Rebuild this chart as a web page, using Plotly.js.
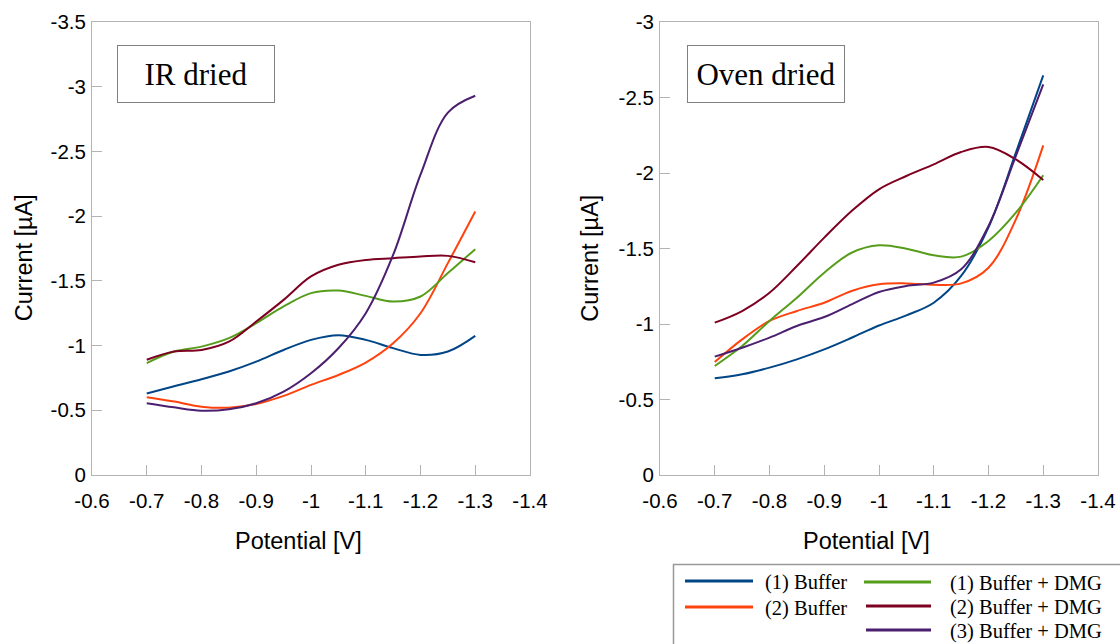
<!DOCTYPE html>
<html>
<head>
<meta charset="utf-8">
<script src="https://cdn.plot.ly/plotly-3.0.1.min.js"></script>
<style>html,body{margin:0;padding:0;background:#fff;}#chart{width:1120px;height:644px;}</style>
</head>
<body>
<div id="chart"></div>
<script>
// ---- data ----
const potential = [-0.7, -0.75, -0.8, -0.85, -0.9, -0.95, -1.0, -1.05, -1.1, -1.15, -1.2, -1.25, -1.3];
const seriesNames = ["(1) Buffer", "(2) Buffer", "(1) Buffer + DMG", "(2) Buffer + DMG", "(3) Buffer + DMG"];
const seriesColors = ["#004586", "#ff420e", "#579d1c", "#7e0021", "#4b1f6f"];

// IR dried (left panel)
const irBuffer1 = [-0.63, -0.685, -0.74, -0.80, -0.876, -0.966, -1.044, -1.08, -1.044, -0.98, -0.928, -0.954, -1.075];
const irBuffer2 = [-0.60, -0.567, -0.528, -0.52, -0.549, -0.611, -0.696, -0.773, -0.869, -1.018, -1.25, -1.637, -2.036];
const irDmg1 = [-0.865, -0.954, -0.992, -1.057, -1.173, -1.302, -1.405, -1.425, -1.384, -1.34, -1.379, -1.56, -1.745];
const irDmg2 = [-0.89, -0.954, -0.966, -1.03, -1.186, -1.353, -1.534, -1.624, -1.662, -1.675, -1.688, -1.693, -1.644];
const irDmg3 = [-0.555, -0.523, -0.497, -0.508, -0.554, -0.644, -0.786, -0.979, -1.25, -1.70, -2.32, -2.80, -2.93];

// Oven dried (right panel)
const ovBuffer1 = [-0.64, -0.667, -0.711, -0.766, -0.832, -0.909, -0.99, -1.057, -1.141, -1.318, -1.64, -2.135, -2.647];
const ovBuffer2 = [-0.748, -0.898, -1.02, -1.086, -1.141, -1.219, -1.263, -1.269, -1.26, -1.269, -1.373, -1.693, -2.183];
const ovDmg1 = [-0.722, -0.854, -1.02, -1.174, -1.34, -1.472, -1.521, -1.499, -1.455, -1.446, -1.55, -1.737, -1.985];
const ovDmg2 = [-1.009, -1.086, -1.207, -1.384, -1.572, -1.748, -1.892, -1.98, -2.057, -2.139, -2.172, -2.09, -1.954];
const ovDmg3 = [-0.784, -0.843, -0.91, -0.987, -1.046, -1.13, -1.212, -1.252, -1.274, -1.362, -1.649, -2.113, -2.587];

const xTickVals = [-0.6, -0.7, -0.8, -0.9, -1.0, -1.1, -1.2, -1.3, -1.4];
const xTickText = ["-0.6", "-0.7", "-0.8", "-0.9", "-1", "-1.1", "-1.2", "-1.3", "-1.4"];
const yTickValsL = [0, -0.5, -1, -1.5, -2, -2.5, -3, -3.5];
const yTickTextL = ["0", "-0.5", "-1", "-1.5", "-2", "-2.5", "-3", "-3.5"];
const yTickValsR = [0, -0.5, -1, -1.5, -2, -2.5, -3];
const yTickTextR = ["0", "-0.5", "-1", "-1.5", "-2", "-2.5", "-3"];
const panelLabels = ["IR dried", "Oven dried"];
const xTitle = "Potential [V]";
const yTitle = "Current [µA]";

const irSeries = [irBuffer1, irBuffer2, irDmg1, irDmg2, irDmg3];
const ovSeries = [ovBuffer1, ovBuffer2, ovDmg1, ovDmg2, ovDmg3];

// ---- layout helpers ----
const W = 1120, H = 644, ML = 92, MR = 22, MT = 22, MB = 169;
const pw = W - ML - MR, ph = H - MT - MB;
const px = v => (v - ML) / pw;
const py = v => (H - MB - v) / ph;

const traces = [];
irSeries.forEach((ys, i) => traces.push({
  x: potential, y: ys, type: 'scatter', mode: 'lines', name: seriesNames[i],
  line: {color: seriesColors[i], width: 2, shape: 'spline', smoothing: 1}, xaxis: 'x', yaxis: 'y', showlegend: false
}));
ovSeries.forEach((ys, i) => traces.push({
  x: potential, y: ys, type: 'scatter', mode: 'lines', name: seriesNames[i],
  line: {color: seriesColors[i], width: 2, shape: 'spline', smoothing: 1}, xaxis: 'x2', yaxis: 'y2', showlegend: false
}));

const tickFont = {family: 'Liberation Sans, Arial, sans-serif', size: 20.5, color: '#000'};
const titleFont = {family: 'Liberation Sans, Arial, sans-serif', size: 23.5, color: '#000'};
const frame = '#b3b3b3';

function xAxis(domain, anchor) {
  return {domain: domain, anchor: anchor, range: [-0.6, -1.4], tickmode: 'array', tickvals: xTickVals, ticktext: xTickText,
    ticks: 'inside', ticklen: 10, tickcolor: frame, tickwidth: 1, showline: true, mirror: true, linecolor: frame, linewidth: 1,
    showgrid: false, zeroline: false, tickfont: tickFont, ticklabelstandoff: 7};
}
function yAxis(range, vals, text, anchor) {
  return {domain: [0, 1], anchor: anchor, range: range, tickmode: 'array', tickvals: vals, ticktext: text,
    ticks: 'inside', ticklen: 10, tickcolor: frame, tickwidth: 1, showline: true, mirror: true, linecolor: frame, linewidth: 1,
    showgrid: false, zeroline: false, tickfont: tickFont, ticklabelstandoff: 1};
}

const boxFont = {family: 'Liberation Serif, Times New Roman, serif', size: 31, color: '#000'};
const legFont = {family: 'Liberation Serif, Times New Roman, serif', size: 20.5, color: '#000'};

const annotations = [
  {xref: 'paper', yref: 'paper', x: px(195.5), y: py(74), xanchor: 'center', yanchor: 'middle', text: panelLabels[0], showarrow: false, font: boxFont,
   bordercolor: '#808080', borderwidth: 1, borderpad: 2, width: 152, height: 52, bgcolor: '#fff', align: 'center'},
  {xref: 'paper', yref: 'paper', x: px(766), y: py(74), xanchor: 'center', yanchor: 'middle', text: panelLabels[1], showarrow: false, font: boxFont,
   bordercolor: '#808080', borderwidth: 1, borderpad: 2, width: 152, height: 52, bgcolor: '#fff', align: 'center'},
  // axis titles
  {xref: 'paper', yref: 'paper', x: px(298.3), y: py(541), xanchor: 'center', yanchor: 'middle', text: xTitle, showarrow: false, font: titleFont},
  {xref: 'paper', yref: 'paper', x: px(866), y: py(541), xanchor: 'center', yanchor: 'middle', text: xTitle, showarrow: false, font: titleFont},
  {xref: 'paper', yref: 'paper', x: px(24), y: py(258.3), xanchor: 'center', yanchor: 'middle', text: yTitle, textangle: -90, showarrow: false, font: titleFont},
  {xref: 'paper', yref: 'paper', x: px(590.5), y: py(258.3), xanchor: 'center', yanchor: 'middle', text: yTitle, textangle: -90, showarrow: false, font: titleFont}
];

// manual legend: two columns
const legendSlots = [
  {lx0: 685, lx1: 753, ly: 581, tx: 763},
  {lx0: 685, lx1: 753, ly: 607, tx: 763},
  {lx0: 864, lx1: 931, ly: 582, tx: 948},
  {lx0: 866, lx1: 931, ly: 606, tx: 948},
  {lx0: 866, lx1: 931, ly: 630, tx: 948}
];
const shapes = [
  {type: 'rect', xref: 'paper', yref: 'paper', x0: px(673.5), x1: px(1130), y0: py(564.5), y1: py(660),
   line: {color: '#999999', width: 1.5}, fillcolor: 'rgba(0,0,0,0)'}
];
legendSlots.forEach((s, i) => {
  shapes.push({type: 'line', xref: 'paper', yref: 'paper', x0: px(s.lx0), x1: px(s.lx1), y0: py(s.ly), y1: py(s.ly),
    line: {color: seriesColors[i], width: 3}});
  annotations.push({xref: 'paper', yref: 'paper', x: px(s.tx), y: py(s.ly + 1), xanchor: 'left', yanchor: 'middle',
    text: seriesNames[i], showarrow: false, font: legFont});
});

const layout = {
  width: W, height: H, margin: {l: ML, r: MR, t: MT, b: MB, autoexpand: false},
  paper_bgcolor: '#fff', plot_bgcolor: '#fff', showlegend: false,
  xaxis: xAxis([0, px(530)], 'y'),
  yaxis: yAxis([0, -3.5], yTickValsL, yTickTextL, 'x'),
  xaxis2: xAxis([px(660), 1], 'y2'),
  yaxis2: yAxis([0, -3], yTickValsR, yTickTextR, 'x2'),
  annotations: annotations, shapes: shapes
};

Plotly.newPlot('chart', traces, layout, {staticPlot: true, displayModeBar: false});
</script>
</body>
</html>
